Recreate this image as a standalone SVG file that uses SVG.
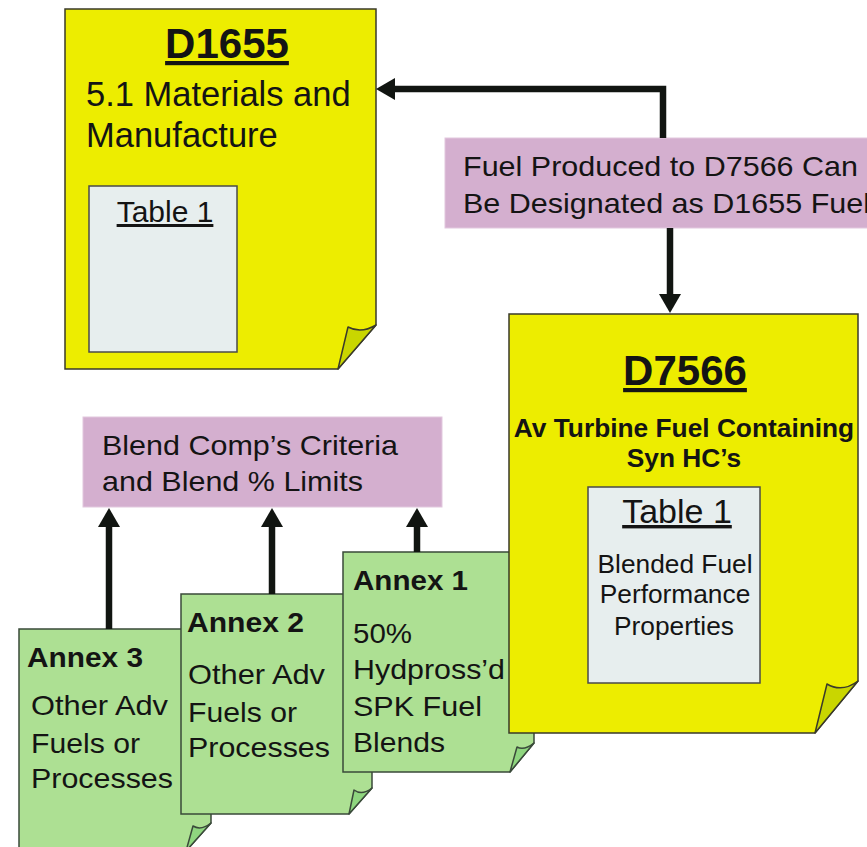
<svg xmlns="http://www.w3.org/2000/svg" width="867" height="847" viewBox="0 0 867 847">
<defs>
<style>
text{font-family:"Liberation Sans",Arial,sans-serif;fill:#141414}
.b{font-weight:bold}
.u{text-decoration:underline}
.yel{fill:#eded00;stroke:#3a3a2a;stroke-width:1.5}
.yflap{fill:#c9d600;stroke:#3a3a2a;stroke-width:1.5;stroke-linejoin:round}
.grn{fill:#ade093;stroke:#3a4a3a;stroke-width:1.5}
.gflap{fill:#8fd67f;stroke:#3a4a3a;stroke-width:1.5;stroke-linejoin:round}
.pink{fill:#d4afcf;stroke:#e2c8de;stroke-width:1}
.tbl{fill:#e7eeee;stroke:#4a4a4a;stroke-width:1.5}
.conn{fill:none;stroke:#111511;stroke-width:6.5;marker-end:url(#ah)}
.t34{font-size:34.5px}
.t28{font-size:28px}
.t26{font-size:26.3px}
</style>
<marker id="ah" viewBox="0 0 19 22" refX="0" refY="11" markerWidth="19" markerHeight="22" markerUnits="userSpaceOnUse" orient="auto">
<path d="M0,0 L19,11 L0,22 Z" fill="#111511"/>
</marker>
</defs>

<g id="d1655">
<path class="yel" d="M65,9 H376 V325 L338,369 H65 Z"/>
<path class="yflap" d="M376,325 Q361,334 348,327 L338,369 Z"/>
<text class="b u" x="227" y="58" font-size="42" text-anchor="middle">D1655</text>
<text class="t34" x="86" y="106">5.1 Materials and</text>
<text class="t34" x="86" y="147">Manufacture</text>
<rect class="tbl" x="89" y="186" width="148" height="166"/>
<text class="u" x="165" y="222" font-size="30" text-anchor="middle">Table 1</text>
</g>

<g id="fuel-produced">
<rect class="pink" x="445" y="138" width="440" height="90"/>
<text class="t28" x="463" y="176" textLength="395" lengthAdjust="spacingAndGlyphs">Fuel Produced to D7566 Can</text>
<text class="t28" x="463" y="213" textLength="407" lengthAdjust="spacingAndGlyphs">Be Designated as D1655 Fuel</text>
</g>

<g id="blend-criteria">
<rect class="pink" x="83" y="417" width="359" height="90"/>
<text class="t28" x="102" y="455" textLength="296" lengthAdjust="spacingAndGlyphs">Blend Comp’s Criteria</text>
<text class="t28" x="102" y="491" textLength="261" lengthAdjust="spacingAndGlyphs">and Blend % Limits</text>
</g>

<g id="annex3">
<path class="grn" d="M19,629 H211 V823 L186,851 H19 Z"/>
<path class="gflap" d="M211,823 Q201,831 193,826 L186,851 Z"/>
<text class="b t28" x="27" y="667" textLength="116" lengthAdjust="spacingAndGlyphs">Annex 3</text>
<text class="t28" x="31" y="715" textLength="137" lengthAdjust="spacingAndGlyphs">Other Adv</text>
<text class="t28" x="31" y="753" textLength="109" lengthAdjust="spacingAndGlyphs">Fuels or</text>
<text class="t28" x="31" y="788" textLength="142" lengthAdjust="spacingAndGlyphs">Processes</text>
</g>

<g id="annex2">
<path class="grn" d="M181,594 H372 V788 L349,814 H181 Z"/>
<path class="gflap" d="M372,788 Q362,796 354,790 L349,814 Z"/>
<text class="b t28" x="187" y="632" textLength="117" lengthAdjust="spacingAndGlyphs">Annex 2</text>
<text class="t28" x="188" y="684" textLength="137" lengthAdjust="spacingAndGlyphs">Other Adv</text>
<text class="t28" x="188" y="722" textLength="109" lengthAdjust="spacingAndGlyphs">Fuels or</text>
<text class="t28" x="188" y="757" textLength="142" lengthAdjust="spacingAndGlyphs">Processes</text>
</g>

<g id="annex1">
<path class="grn" d="M343,552 H534 V743 L510,772 H343 Z"/>
<path class="gflap" d="M534,743 Q524,751 517,747 L510,772 Z"/>
<text class="b t28" x="353" y="590" textLength="115" lengthAdjust="spacingAndGlyphs">Annex 1</text>
<text class="t28" x="353" y="643" textLength="59" lengthAdjust="spacingAndGlyphs">50%</text>
<text class="t28" x="353" y="679" textLength="152" lengthAdjust="spacingAndGlyphs">Hydpross’d</text>
<text class="t28" x="353" y="716" textLength="129" lengthAdjust="spacingAndGlyphs">SPK Fuel</text>
<text class="t28" x="353" y="752" textLength="92" lengthAdjust="spacingAndGlyphs">Blends</text>
</g>

<g id="d7566">
<path class="yel" d="M509,314 H858 V681 L815,733 H509 Z"/>
<path class="yflap" d="M858,681 Q842,693 827,684 L815,733 Z"/>
<text class="b u" x="685" y="385" font-size="42" text-anchor="middle">D7566</text>
<text class="b t26" x="684" y="437" text-anchor="middle">Av Turbine Fuel Containing</text>
<text class="b t26" x="684" y="467" text-anchor="middle">Syn HC’s</text>
<rect class="tbl" x="588" y="487" width="172" height="196"/>
<text class="u" x="677" y="523" font-size="34" text-anchor="middle">Table 1</text>
<text class="t26" x="675" y="573" text-anchor="middle">Blended Fuel</text>
<text class="t26" x="675" y="603" text-anchor="middle">Performance</text>
<text class="t26" x="674" y="635" text-anchor="middle">Properties</text>
</g>

<g id="connectors">
<path class="conn" d="M663,138 V89 H395"/>
<path class="conn" d="M670,228 V294"/>
<path class="conn" d="M109,629 V527"/>
<path class="conn" d="M272,594 V527"/>
<path class="conn" d="M417,552 V527"/>
</g>
</svg>
